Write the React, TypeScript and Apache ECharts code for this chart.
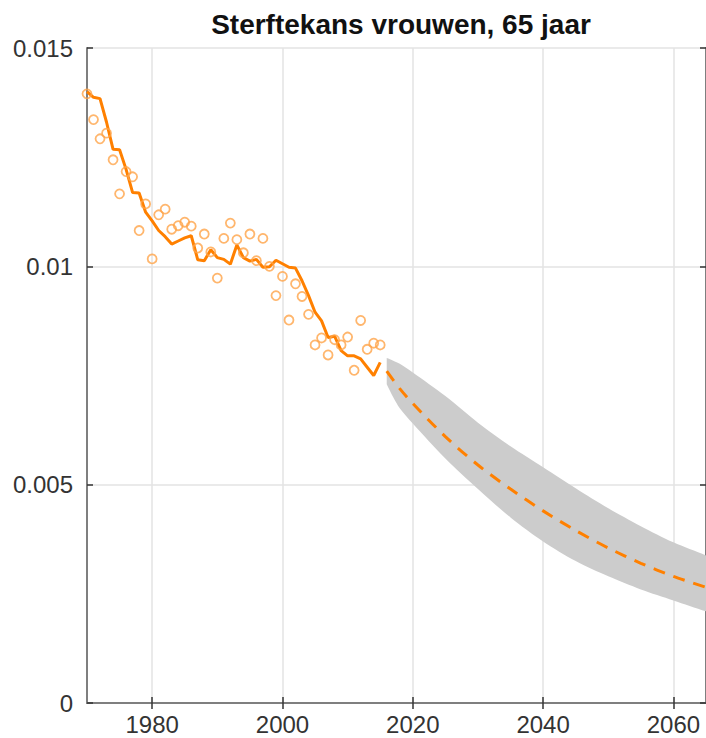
import React, { useEffect, useRef } from "react";
import * as echarts from "echarts";

const obsYears = [
  1970, 1971, 1972, 1973, 1974, 1975, 1976, 1977, 1978, 1979, 1980, 1981, 1982, 1983, 1984, 1985,
  1986, 1987, 1988, 1989, 1990, 1991, 1992, 1993, 1994, 1995, 1996, 1997, 1998, 1999, 2000, 2001,
  2002, 2003, 2004, 2005, 2006, 2007, 2008, 2009, 2010, 2011, 2012, 2013, 2014, 2015,
];
const observed = [
  0.01395, 0.01336, 0.01292, 0.01305, 0.01244, 0.01166, 0.01217, 0.01205, 0.01082, 0.01143, 0.01017,
  0.01118, 0.01131, 0.01085, 0.01093, 0.01101, 0.01092, 0.01042, 0.01074, 0.01033, 0.00973, 0.01064,
  0.01099, 0.01061, 0.01031, 0.01074, 0.01013, 0.01064, 0.01, 0.00933, 0.00977, 0.00877, 0.0096,
  0.00931, 0.0089, 0.0082, 0.00836, 0.00797, 0.00832, 0.0082, 0.00838, 0.00762, 0.00876, 0.0081,
  0.00824, 0.0082,
];
const smoothed = [
  0.014, 0.01387, 0.01384, 0.0133, 0.01268, 0.01267, 0.01222, 0.01169, 0.01168, 0.01124, 0.01104,
  0.01082, 0.01068, 0.01051, 0.01058, 0.01065, 0.0107, 0.01015, 0.01013, 0.01038, 0.0102, 0.01016,
  0.01005, 0.01049, 0.0102, 0.01012, 0.01016, 0.00998, 0.00999, 0.01014, 0.01006, 0.00998, 0.00996,
  0.00967, 0.00933, 0.00895, 0.00875, 0.00837, 0.0084, 0.00807, 0.00795, 0.00795, 0.00788, 0.00769,
  0.0075, 0.0078,
];

const fcYears = [2016, 2018, 2020, 2025, 2030, 2035, 2040, 2045, 2050, 2055, 2060, 2065];
const fcMid = [0.0076, 0.0072, 0.00686, 0.0061, 0.00545, 0.0049, 0.0044, 0.00395, 0.00355, 0.0032, 0.0029, 0.00265];

const bandYears = [2016, 2017, 2018, 2020, 2025, 2030, 2035, 2040, 2045, 2050, 2055, 2060, 2065];
const bandUpper = [0.0079, 0.00784, 0.00777, 0.00757, 0.00703, 0.00642, 0.00588, 0.0054, 0.00492, 0.00446, 0.00405, 0.00368, 0.00338];
const bandLower = [0.0073, 0.007, 0.00675, 0.0064, 0.0056, 0.0049, 0.00425, 0.0037, 0.00325, 0.0029, 0.0026, 0.00235, 0.0021];

const xTicks = [1980, 2000, 2020, 2040, 2060];

const FONT = "'Liberation Sans', Arial, Helvetica, sans-serif";
const AXIS_COLOR = "#7f7f7f";
const LABEL_COLOR = "#333333";
const ORANGE = "#ff8000";

export default function App() {
  const ref = useRef<HTMLDivElement>(null);

  useEffect(() => {
    if (!ref.current) return;
    const chart = echarts.init(ref.current, undefined, { renderer: "svg" });

    const pair = (xs: number[], ys: number[]) => xs.map((x, i) => [x, ys[i]]);

    const commonX = {
      type: "value",
      min: 1970,
      max: 2065,
      axisLine: { show: true, lineStyle: { color: AXIS_COLOR, width: 2 } },
      axisTick: {
        show: true,
        inside: true,
        length: 6,
        customValues: xTicks,
        lineStyle: { color: "#333333", width: 1.5 },
      },
    };

    chart.setOption({
      animation: false,
      title: {
        text: "Sterftekans vrouwen, 65 jaar",
        left: 396,
        textAlign: "center",
        top: 5,
        textStyle: { fontFamily: FONT, fontSize: 28, fontWeight: "bold", color: "#111111" },
      },
      grid: { left: 87, right: 0, top: 48, bottom: 35, containLabel: false },
      xAxis: [
        {
          ...commonX,
          position: "bottom",
          axisLabel: {
            customValues: xTicks,
            formatter: (v: number) => String(v),
            margin: 9,
            fontFamily: FONT,
            fontSize: 24,
            color: LABEL_COLOR,
          },
          splitLine: { show: true, lineStyle: { color: "#e3e3e3", width: 1.5 } },
        },
        {
          ...commonX,
          position: "top",
          axisLabel: { show: false },
          splitLine: { show: false },
        },
      ],
      yAxis: [
        {
          type: "value",
          min: 0,
          max: 0.015,
          interval: 0.005,
          position: "left",
          axisLine: { show: true, lineStyle: { color: AXIS_COLOR, width: 2 } },
          axisTick: { show: true, inside: true, length: 6, lineStyle: { color: "#333333", width: 1.5 } },
          axisLabel: {
            margin: 14,
            fontFamily: FONT,
            fontSize: 24,
            color: LABEL_COLOR,
          },
          splitLine: { show: true, lineStyle: { color: "#e3e3e3", width: 1.5 } },
        },
        {
          type: "value",
          min: 0,
          max: 0.015,
          interval: 0.005,
          position: "right",
          axisLine: { show: true, lineStyle: { color: AXIS_COLOR, width: 2 } },
          axisTick: { show: true, inside: true, length: 6, lineStyle: { color: "#333333", width: 1.5 } },
          axisLabel: { show: false },
          splitLine: { show: false },
        },
      ],
      series: [
        {
          name: "band",
          type: "custom",
          data: bandYears.map((y, i) => [y, bandLower[i], bandUpper[i]]),
          encode: { x: 0, y: [1, 2] },
          silent: true,
          z: 1,
          renderItem: (params: any, api: any) => {
            if (params.dataIndex !== 0) return null;
            const top = bandYears.map((y, i) => api.coord([y, bandUpper[i]]));
            const bottom = bandYears
              .map((y, i) => api.coord([y, bandLower[i]]))
              .reverse();
            // duplicate the corner points so the smoothed outline keeps sharp corners
            const pts = [
              top[0],
              ...top,
              top[top.length - 1],
              bottom[0],
              ...bottom,
              bottom[bottom.length - 1],
            ];
            return {
              type: "polygon",
              shape: { points: pts, smooth: 0.3 },
              style: { fill: "#cccccc", stroke: "none" },
            };
          },
        },
        {
          name: "forecast",
          type: "line",
          data: pair(fcYears, fcMid),
          smooth: 0.3,
          symbol: "none",
          lineStyle: { color: ORANGE, width: 3, type: [12, 9] },
          z: 3,
        },
        {
          name: "smoothed",
          type: "line",
          data: pair(obsYears, smoothed),
          symbol: "none",
          lineStyle: { color: ORANGE, width: 3 },
          z: 3,
        },
        {
          name: "observed",
          type: "scatter",
          data: pair(obsYears, observed),
          symbol: "circle",
          symbolSize: 9,
          itemStyle: { color: "rgba(255,255,255,0)", borderColor: "#ffa448", borderWidth: 1.8 },
          z: 4,
        },
      ],
    });

    return () => {
      chart.dispose();
    };
  }, []);

  return (
    <div
      ref={ref}
      style={{ position: "fixed", left: 0, top: 0, width: 706, height: 738, background: "#ffffff" }}
    />
  );
}
